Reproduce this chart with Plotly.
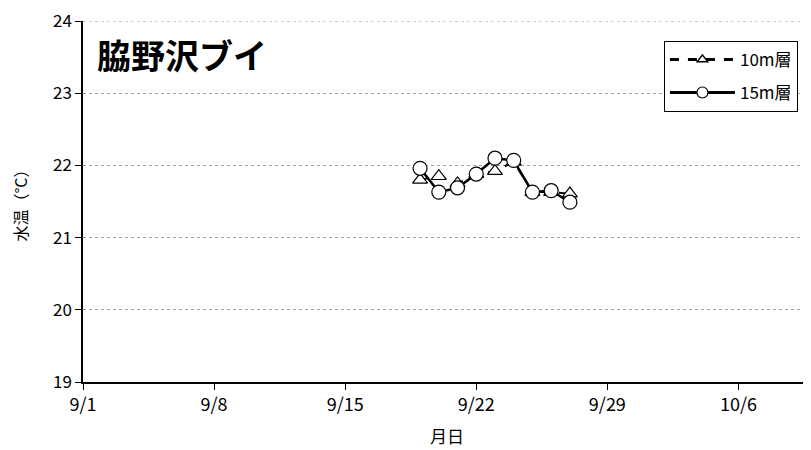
import plotly.graph_objects as go

dates = ["2023-09-19", "2023-09-20", "2023-09-21", "2023-09-22", "2023-09-23",
         "2023-09-24", "2023-09-25", "2023-09-26", "2023-09-27"]
temp_10m = [21.80, 21.85, 21.75, 21.88, 21.92, 22.05, 21.63, 21.63, 21.61]
temp_15m = [21.96, 21.63, 21.69, 21.88, 22.10, 22.07, 21.63, 21.65, 21.49]

tick_vals = ["2023-09-01", "2023-09-08", "2023-09-15", "2023-09-22", "2023-09-29", "2023-10-06"]
tick_text = ["9/1", "9/8", "9/15", "9/22", "9/29", "10/6"]
y_min, y_max = 19, 24

FONT = "Noto Sans CJK JP"

fig = go.Figure()
fig.add_trace(go.Scatter(
    x=dates, y=temp_10m, name="10m層", mode="lines+markers", showlegend=False,
    line=dict(color="black", width=2, dash="dash"),
    marker=dict(symbol="triangle-up", size=13, color="white",
                line=dict(color="black", width=1.2)),
))
fig.add_trace(go.Scatter(
    x=dates, y=temp_15m, name="15m層", mode="lines+markers", showlegend=False,
    line=dict(color="black", width=2.5),
    marker=dict(symbol="circle", size=14, color="white",
                line=dict(color="black", width=1.2)),
))
# legend entries (smaller symbols like the reference)
fig.add_trace(go.Scatter(
    x=[None], y=[None], name="10m層", mode="lines+markers", legendgroup="a",
    line=dict(color="black", width=3, dash="dash"),
    marker=dict(symbol="triangle-up", size=9, color="white",
                line=dict(color="black", width=1.5)),
))
fig.add_trace(go.Scatter(
    x=[None], y=[None], name="15m層", mode="lines+markers", legendgroup="b",
    line=dict(color="black", width=3),
    marker=dict(symbol="circle", size=11, color="white",
                line=dict(color="black", width=1.2)),
))

# top gridline (at the range edge plotly omits it)
fig.add_shape(type="line", xref="paper", yref="y", x0=0, x1=1, y0=y_max, y1=y_max,
              line=dict(color="#a0a0a0", width=1, dash="dot"))

fig.update_layout(
    width=803, height=442,
    margin=dict(l=75, r=0, t=13, b=68),
    plot_bgcolor="white", paper_bgcolor="white",
    font=dict(family=FONT, size=18, color="black"),
    showlegend=True,
    legend=dict(x=0.798, y=0.945, xanchor="left", yanchor="top",
                bordercolor="black", borderwidth=1, bgcolor="white",
                font=dict(size=17, family=FONT), tracegroupgap=8,
                itemwidth=65),
    xaxis=dict(
        range=["2023-09-01", "2023-10-09 21:00"],
        tickvals=tick_vals, ticktext=tick_text, automargin=False,
        showgrid=False, zeroline=False,
        showline=True, linecolor="black", linewidth=1.5,
        ticks="outside", ticklen=6, tickcolor="black",
        tickfont=dict(size=18), ticklabeloverflow="allow",
        title=dict(text="月日", font=dict(size=17), standoff=16),
    ),
    yaxis=dict(
        range=[y_min, y_max], dtick=1, automargin=False,
        showgrid=True, gridcolor="#a0a0a0", griddash="dot", gridwidth=1,
        zeroline=False,
        showline=True, linecolor="black", linewidth=1.5,
        ticks="outside", ticklen=6, tickcolor="black",
        tickfont=dict(size=17), ticklabeloverflow="allow",
        title=dict(text="水温（°C）", font=dict(size=16), standoff=42),
    ),
    annotations=[dict(
        text="<b>脇野沢ブイ</b>", x=0.016, y=0.906, xref="paper", yref="paper",
        xanchor="left", yanchor="middle", showarrow=False,
        font=dict(size=34, family=FONT, color="black"),
    )],
)

fig.write_html("out.html")
